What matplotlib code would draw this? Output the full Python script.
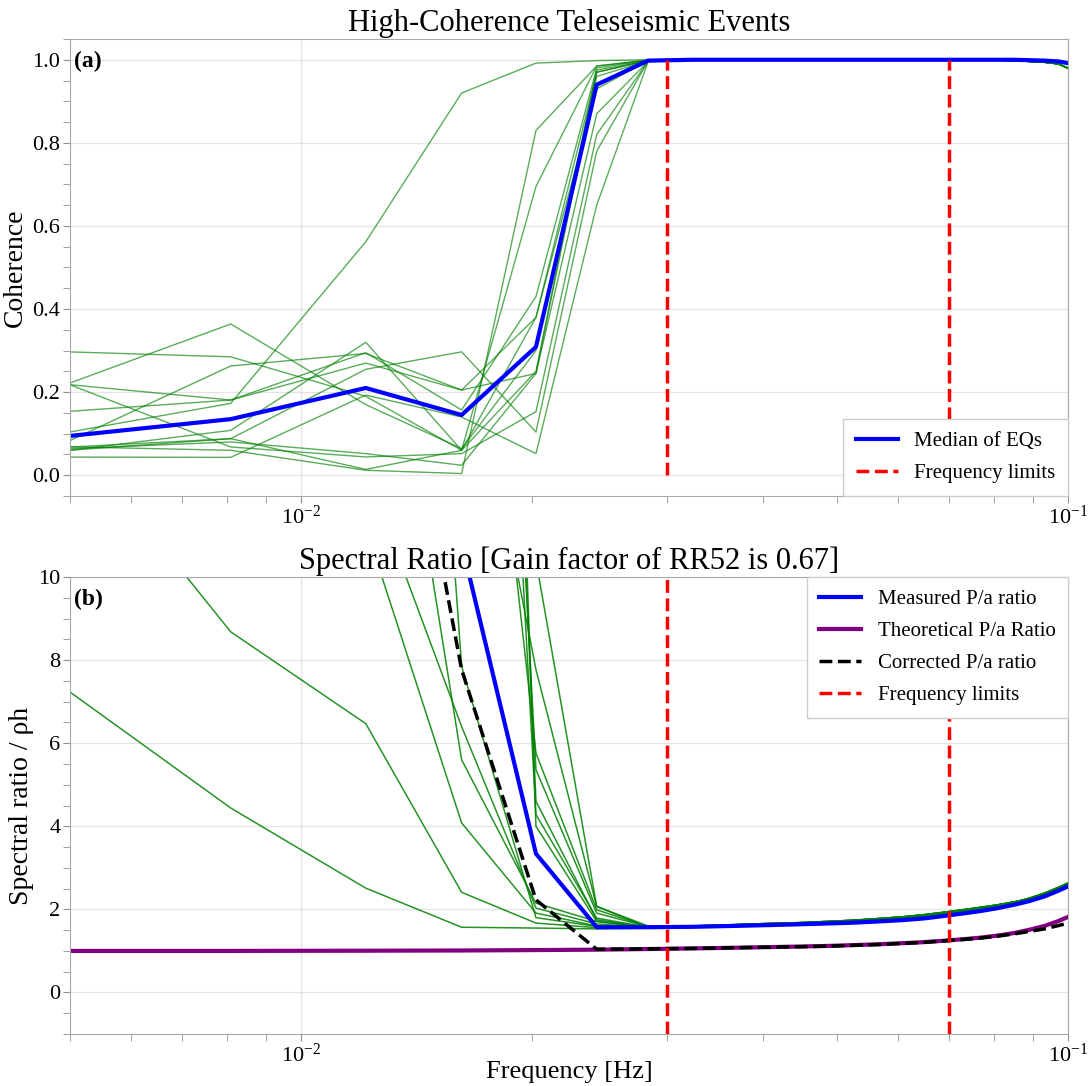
import numpy as np
import matplotlib.pyplot as plt
from matplotlib.ticker import MultipleLocator, LogLocator, NullFormatter

plt.rcParams['font.family'] = ['Liberation Serif', 'DejaVu Serif']
plt.rcParams['mathtext.fontset'] = 'stix'

# frequency grid of the spectra [Hz]
freqs = [0.00405, 0.0081, 0.01215, 0.0162, 0.02025, 0.0243, 0.02835, 0.0324,
         0.03645, 0.0405, 0.04455, 0.0486, 0.05265, 0.0567, 0.06075, 0.0648,
         0.06885, 0.0729, 0.07695, 0.081, 0.08505, 0.0891, 0.09315, 0.0972, 0.10125]
freq_limits = [0.03, 0.07]

# ---- (a) coherence, first 7 bins per event + shared high-frequency tail
coh_events = [
    [0.074, 0.173, 0.562, 0.92, 0.992, 0.998, 1.0],
    [0.160, 0.364, 0.17, 0.064, 0.30, 0.97, 0.998],
    [0.302, 0.285, 0.19, 0.06, 0.25, 0.975, 0.998],
    [0.234, 0.181, 0.27, 0.205, 0.245, 0.96, 0.997],
    [0.142, 0.181, 0.295, 0.157, 0.43, 0.98, 0.999],
    [0.005, 0.263, 0.293, 0.205, 0.38, 0.97, 0.998],
    [0.039, 0.108, 0.32, 0.06, 0.695, 0.985, 0.999],
    [0.059, 0.088, 0.255, 0.297, 0.104, 0.78, 0.997],
    [0.057, 0.08, 0.052, 0.024, 0.245, 0.87, 0.996],
    [0.283, 0.068, 0.044, 0.052, 0.153, 0.82, 0.996],
    [0.044, 0.043, 0.193, 0.14, 0.052, 0.65, 0.995],
    [0.072, 0.06, 0.012, 0.004, 0.83, 0.985, 0.999],
    [0.048, 0.088, 0.014, 0.06, 0.38, 0.93, 0.998],
]
coh_tail_eq = [1.0, 1.0, 1.0, 1.0, 1.0, 1.0, 1.0, 1.0, 1.0, 1.0, 1.0, 1.0,
               0.999, 0.998, 0.996, 0.994, 0.99, 0.975]
coh_median = [0.077, 0.135, 0.21, 0.145, 0.309, 0.94, 0.998,
              1.0, 1.0, 1.0, 1.0, 1.0, 1.0, 1.0, 1.0, 1.0, 1.0, 1.0, 1.0,
              1.0, 1.0, 0.999, 0.998, 0.996, 0.99]

# ---- (b) spectral ratio, first 7 bins per event + one of three tails
ratio_events = [
    [8.45, 4.44, 2.51, 1.57, 1.55, 1.53, 1.55],
    [15.6, 8.68, 6.47, 2.41, 1.67, 1.56, 1.56],
    [30, 18, 11.2, 4.08, 1.91, 1.60, 1.57],
    [35, 20, 12.6, 6.4, 2.03, 1.65, 1.57],
    [40, 25, 20, 5.6, 2.15, 1.71, 1.58],
    [60, 50, 40, 7.85, 1.80, 1.59, 1.56],
    [80, 60, 40, 17, 7.77, 2.07, 1.60],
    [80, 60, 45, 22, 5.76, 1.99, 1.58],
    [90, 70, 60, 39, 5.36, 1.91, 1.58],
    [90, 70, 60, 37, 4.28, 1.79, 1.57],
    [100, 80, 70, 55, 4.0, 1.71, 1.56],
    [100, 80, 70, 40, 10.4, 2.07, 1.57],
    [100, 80, 70, 45, 4.6, 1.75, 1.57],
]
ratio_tails = [
    [1.60, 1.62, 1.65, 1.67, 1.70, 1.73, 1.76, 1.80, 1.85, 1.92, 1.98, 2.04, 2.10, 2.17, 2.26, 2.37, 2.50, 2.63],
    [1.59, 1.61, 1.63, 1.66, 1.69, 1.72, 1.75, 1.79, 1.84, 1.90, 1.96, 2.02, 2.09, 2.17, 2.27, 2.39, 2.53, 2.68],
    [1.60, 1.63, 1.66, 1.68, 1.71, 1.74, 1.78, 1.82, 1.87, 1.93, 1.99, 2.05, 2.11, 2.18, 2.25, 2.34, 2.45, 2.56],
]
ratio_measured = [60, 40, 30, 10.8, 3.34, 1.57, 1.57,
                  1.58, 1.60, 1.62, 1.64, 1.66, 1.68, 1.71, 1.74, 1.78, 1.84,
                  1.90, 1.96, 2.03, 2.11, 2.20, 2.31, 2.45, 2.60]
ratio_theory = [1.0, 1.0, 1.005, 1.01, 1.02, 1.03, 1.045, 1.06, 1.075, 1.09,
                1.105, 1.12, 1.14, 1.16, 1.185, 1.21, 1.245, 1.28, 1.32, 1.37,
                1.43, 1.51, 1.60, 1.72, 1.86]
ratio_corrected = [40, 27, 20, 7.77, 2.23, 1.04, 1.05,
                   1.06, 1.075, 1.09, 1.10, 1.115, 1.135, 1.155, 1.18, 1.205,
                   1.24, 1.275, 1.31, 1.355, 1.41, 1.47, 1.53, 1.61, 1.70]


def style_axes(ax):
    ax.set_xscale('log')
    ax.set_xlim(0.005, 0.1)
    ax.xaxis.set_major_locator(LogLocator(base=10))
    ax.xaxis.set_minor_locator(LogLocator(base=10, subs=np.arange(2, 10)))
    ax.xaxis.set_minor_formatter(NullFormatter())
    ax.grid(True, which='major', color='#e4e4e4', lw=0.9)
    ax.set_axisbelow(True)
    for s in ax.spines.values():
        s.set_color('#a8a8a8')
    ax.tick_params(which='both', direction='out', color='#909090', length=5,
                   labelsize=16, pad=2)


fig = plt.figure(figsize=(10.88, 10.86), dpi=100)
ax1 = fig.add_axes([70 / 1088, 1 - 496 / 1086, 998 / 1088, 457 / 1086])
ax2 = fig.add_axes([70 / 1088, 1 - 1034 / 1086, 998 / 1088, 457 / 1086])

leg_kw = dict(fontsize=15, fancybox=False, edgecolor='#cccccc', framealpha=1,
              borderaxespad=0, borderpad=0.6, labelspacing=0.6)

# (a)
for ev in coh_events:
    ax1.plot(freqs, ev + coh_tail_eq, color='green', lw=1.0, alpha=0.65)
ax1.plot(freqs, coh_median, color='blue', lw=3, label='Median of EQs')
ax1.vlines(freq_limits, 0, 1, colors='red', linestyles='--', lw=2.5,
           label='Frequency limits')
style_axes(ax1)
ax1.set_ylim(-0.05, 1.05)
ax1.yaxis.set_major_locator(MultipleLocator(0.2))
ax1.yaxis.set_minor_locator(MultipleLocator(0.05))
ax1.set_ylabel('Coherence', fontsize=20, labelpad=3)
ax1.set_title('High-Coherence Teleseismic Events', fontsize=22, pad=6)
ax1.text(0.004, 0.975, '(a)', transform=ax1.transAxes, fontsize=17,
         fontweight='bold', va='top', ha='left')
ax1.legend(loc='lower right', **leg_kw)

# (b)
for i, ev in enumerate(ratio_events):
    ax2.plot(freqs, ev + ratio_tails[i % 3], color='green', lw=1.1, alpha=0.85)
ax2.plot(freqs, ratio_measured, color='blue', lw=3, label='Measured P/a ratio')
ax2.plot(freqs, ratio_theory, color='purple', lw=3, label='Theoretical P/a Ratio')
ax2.plot(freqs, ratio_corrected, color='black', ls='--', lw=2.5,
         label='Corrected P/a ratio')
ax2.vlines(freq_limits, -1, 10, colors='red', linestyles='--', lw=2.5,
           label='Frequency limits')
style_axes(ax2)
ax2.set_ylim(-1, 10)
ax2.yaxis.set_major_locator(MultipleLocator(2))
ax2.yaxis.set_minor_locator(MultipleLocator(0.5))
ax2.set_ylabel('Spectral ratio / ρh', fontsize=20, labelpad=3)
ax2.set_xlabel('Frequency [Hz]', fontsize=19, va='top')
ax2.xaxis.set_label_coords(0.5, -0.058)
ax2.set_title('Spectral Ratio [Gain factor of RR52 is 0.67]', fontsize=22, pad=6)
ax2.text(0.004, 0.975, '(b)', transform=ax2.transAxes, fontsize=17,
         fontweight='bold', va='top', ha='left')
ax2.legend(loc='upper right', **leg_kw)

fig.savefig('out.png', dpi=100)
